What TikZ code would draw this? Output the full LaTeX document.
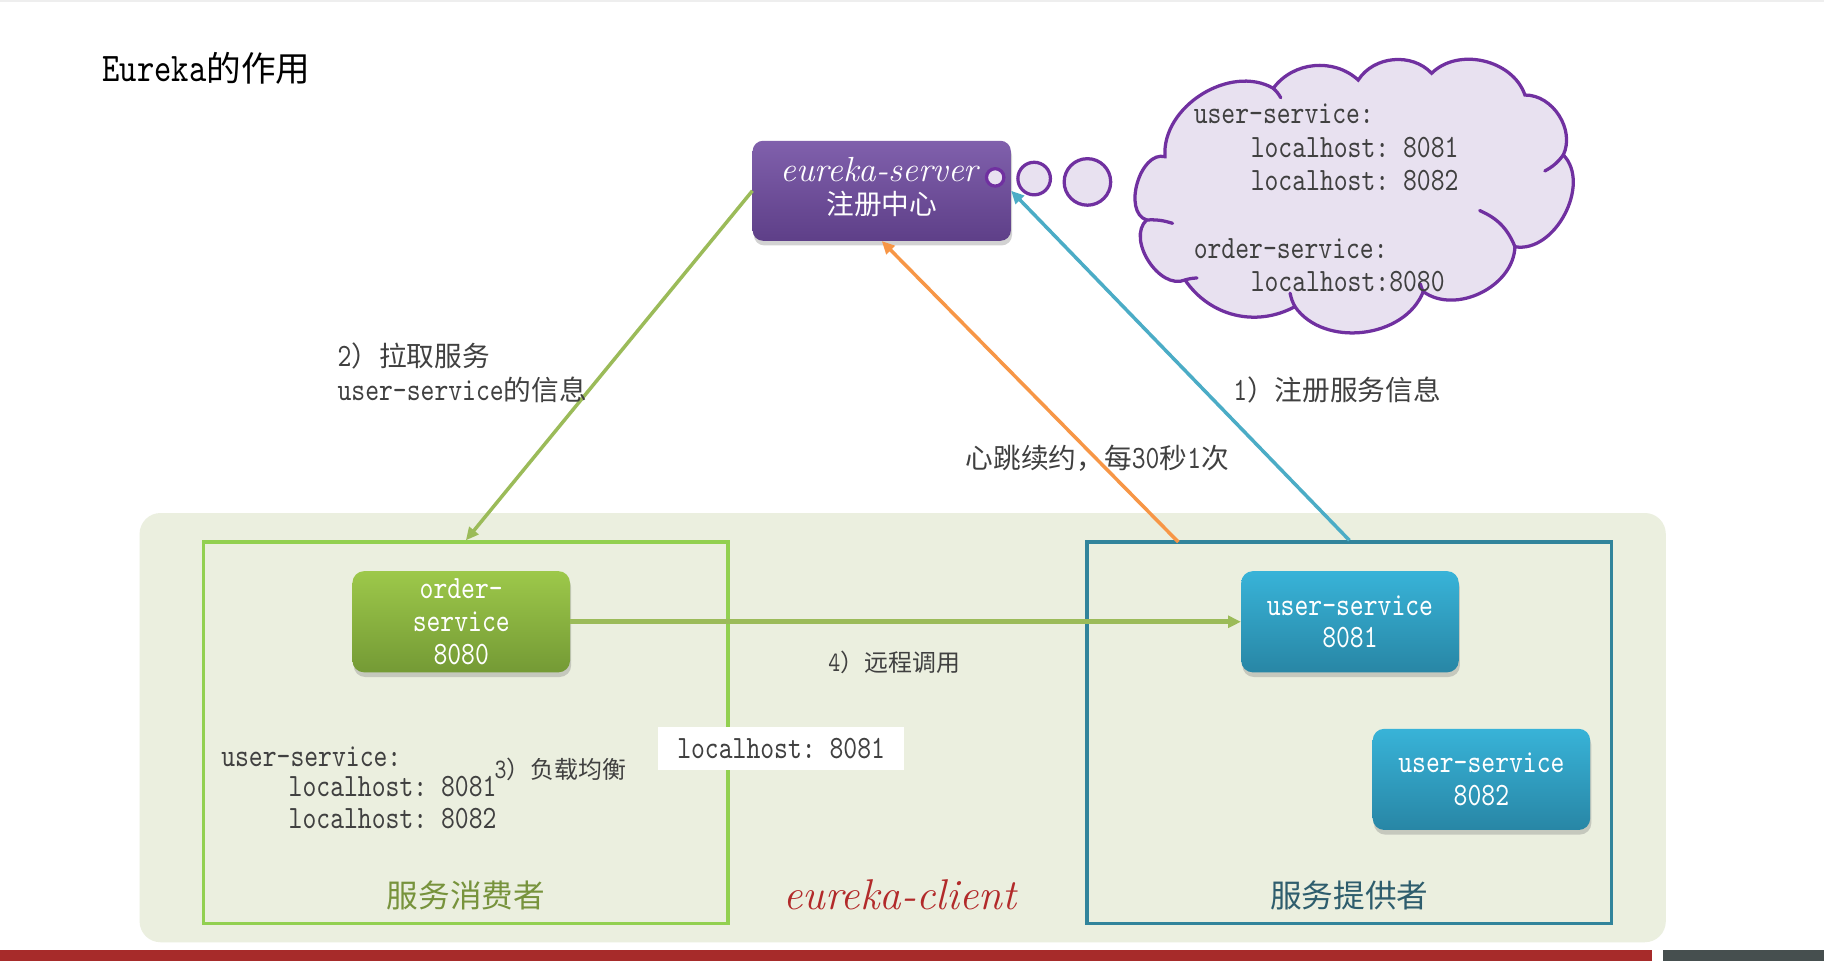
\documentclass[tikz,border=0pt]{standalone}
\usepackage{fontspec}
\setmonofont{lmmono10-regular.otf}[FakeStretch=0.81]
\newfontfamily\cjk{Noto Sans CJK SC}[Scale=0.85]
\usetikzlibrary{shapes.symbols,shadows,arrows.meta,calc}
\definecolor{txtgray}{HTML}{404040}
\definecolor{srvtop}{HTML}{8060AC}
\definecolor{srvbot}{HTML}{5E3F88}
\definecolor{grtop}{HTML}{9DC84A}
\definecolor{grbot}{HTML}{749A35}
\definecolor{bltop}{HTML}{38B3D8}
\definecolor{blbot}{HTML}{2886A5}
\definecolor{linegreen}{HTML}{9BBB59}
\definecolor{lineorange}{HTML}{F79646}
\definecolor{lineblue}{HTML}{4BACC6}
\definecolor{bgpanel}{HTML}{EBEFDF}
\definecolor{consgreen}{HTML}{92D050}
\definecolor{provteal}{HTML}{31849B}
\definecolor{cloudfill}{HTML}{E8E1F0}
\definecolor{cloudline}{HTML}{7030A0}
\definecolor{conslabel}{HTML}{77933C}
\definecolor{provlabel}{HTML}{2E5D6D}
\definecolor{clientred}{HTML}{B22A2A}
\definecolor{barred}{HTML}{A72B2A}
\definecolor{bargray}{HTML}{464F4F}
\definecolor{topline}{HTML}{EEEEEE}
\tikzset{
  lbl/.style={font=\fontsize{28}{29}\selectfont\ttfamily, text=txtgray, inner sep=0pt, anchor=base west},
  smalllbl/.style={font=\fontsize{24.2}{25}\selectfont\ttfamily, text=txtgray, inner sep=0pt, anchor=base west},
  svcbox/.style={rounded corners=10pt, minimum width=187pt, minimum height=87pt, text=white, align=center,
     font=\fontsize{28}{28}\selectfont\ttfamily, inner sep=0pt,
     drop shadow={opacity=0.35, shadow xshift=1pt, shadow yshift=-4pt}},
  greensvc/.style={svcbox, top color=grtop, bottom color=grbot},
  bluesvc/.style={svcbox, top color=bltop, bottom color=blbot},
  groupbox/.style={line width=3pt, minimum width=451pt, minimum height=328pt, inner sep=0pt},
  conn/.style={line width=3pt, -{Triangle[length=11pt,width=10pt]}},
  bubble/.style={circle, draw=cloudline, fill=cloudfill, line width=2.8pt, inner sep=0pt},
  cloudstroke/.style={draw=cloudline, line width=2.8pt, line cap=round},
}
\begin{document}
\begin{tikzpicture}[x=1pt,y=-1pt]
\useasboundingbox (0,0) rectangle (1568,826);
\fill[white] (0,0) rectangle (1568,826);
\fill[topline] (0,0) rectangle (1568,2);
% title
\node[anchor=base west, inner sep=0pt, font=\fontsize{35}{36}\selectfont\ttfamily, text=black] (title) at (88,70) {Eureka{\cjk 的作用}};
% panel
\node[fill=bgpanel, rounded corners=18pt, minimum width=1312pt, minimum height=369pt, inner sep=0pt] (panel) at (776,625.5) {};
\node[groupbox, draw=consgreen] (consumer) at (400.5,630) {};
\node[groupbox, draw=provteal] (provider) at (1160,630) {};
\node[fill=white, minimum width=211pt, minimum height=37pt, inner sep=0pt, font=\fontsize{28}{29}\selectfont\ttfamily, text=txtgray] (lh) at (671.5,643.5) {localhost: 8081};
% services
\node[greensvc] (order) at (396.5,534.5) {order-\\service\\8080};
\node[bluesvc] (us1) at (1160.5,534.5) {user-service\\8081};
\node[bluesvc] (us2) at (1273.5,670) {user-service\\8082};
% server
\node[rounded corners=9pt, minimum width=222pt, minimum height=86pt, inner sep=0pt, top color=srvtop, bottom color=srvbot,
  drop shadow={opacity=0.35, shadow xshift=1pt, shadow yshift=-4pt}] (server) at (758,164) {};
\node[anchor=base, inner sep=0pt, text=white, font=\fontsize{30}{30}\selectfont\rmfamily\itshape] (srvname) at (756,156) {eureka-server};
\node[anchor=base, inner sep=0pt, text=white, font=\fontsize{28}{28}\selectfont\cjk] (srvcn) at (758,184) {注册中心};
% cloud
\coordinate (k1) at (1001.5,134.7);
\coordinate (k2) at (1094.6,75.9);
\coordinate (k3) at (1167.6,68.8);
\coordinate (k4) at (1230.7,63.0);
\coordinate (k5) at (1310.9,81.7);
\coordinate (k6) at (1343.9,133.2);
\coordinate (k7) at (1302.3,212.1);
\coordinate (k8) at (1223.5,250.7);
\coordinate (k9) at (1113.2,263.6);
\coordinate (k10) at (1018.7,240.7);
\coordinate (k11) at (985.7,189.1);
\path[cloudstroke, fill=cloudfill] (k1) to[bend left=62] (k2) to[bend left=48] (k3) to[bend left=52] (k4)
  to[bend left=58] (k5) to[bend left=58] (k6) to[bend left=72] (k7) to[bend left=62] (k8)
  to[bend left=62] (k9) to[bend left=42] (k10) to[bend left=80] (k11) to[bend left=88] (k1) -- cycle;
% inner strokes of the cloud
\coordinate (t7) at (1272,181);
\coordinate (t6) at (1328,147);
\coordinate (t11) at (1008,192);
\coordinate (t10) at (1029,239);
\coordinate (t8) at (1221,244);
\coordinate (t9) at (1109,252);
\coordinate (t2) at (1101,84);
\draw[cloudstroke] (k7) to[bend right=22] (t7);
\draw[cloudstroke] (k6) to[bend left=12] (t6);
\draw[cloudstroke] (k11) to[bend left=10] (t11);
\draw[cloudstroke] (k10) to[bend left=8] (t10);
\draw[cloudstroke] (k8) to[bend left=8] (t8);
\draw[cloudstroke] (k9) to[bend left=8] (t9);
\draw[cloudstroke] (k2) to[bend left=8] (t2);
\node[bubble, minimum size=15pt] (b1) at (855.5,152.5) {};
\node[bubble, minimum size=28pt] (b2) at (889,153.5) {};
\node[bubble, minimum size=40pt] (b3) at (934.8,156.4) {};
\node[lbl] (c1) at (1026,106) {user-service:};
\node[lbl] (c2) at (1075,135) {localhost: 8081};
\node[lbl] (c3) at (1075,164) {localhost: 8082};
\node[lbl] (c4) at (1026,222) {order-service:};
\node[lbl] (c5) at (1075,251) {localhost:8080};
% connectors
\coordinate (hb) at (1013,466);
\draw[conn, linegreen] (server.west) -- (consumer.north);
\draw[conn, lineorange] (hb) -- (server.south);
\draw[conn, lineblue] (provider.north) -- (server.east);
\draw[conn, linegreen, line width=4pt] (order.east) -- (us1.west);
% labels
\node[lbl] (l2a) at (290,315) {2{\cjk ）拉取服务}};
\node[lbl] (l2b) at (290,344) {user-service{\cjk 的信息}};
\node[lbl] (l1) at (1060,344) {1{\cjk ）注册服务信息}};
\node[lbl] (lhb) at (830,403) {{\cjk 心跳续约，每}30{\cjk 秒}1{\cjk 次}};
\node[smalllbl] (l4) at (712,577) {4{\cjk ）远程调用}};
\node[smalllbl] (l3) at (425,669) {3{\cjk ）负载均衡}};
\node[lbl] (u1) at (190,659) {user-service:};
\node[lbl] (u2) at (248,685) {localhost: 8081};
\node[lbl] (u3) at (248,712) {localhost: 8082};
\node[anchor=base, inner sep=0pt, font=\fontsize{32}{32}\selectfont\cjk, text=conslabel] (cons) at (400.5,780) {服务消费者};
\node[anchor=base, inner sep=0pt, font=\fontsize{32}{32}\selectfont\cjk, text=provlabel] (prov) at (1160,780) {服务提供者};
\node[anchor=base west, inner sep=0pt, font=\fontsize{37}{38}\selectfont\rmfamily\itshape, text=clientred] (client) at (673,782) {eureka-client};
% bottom bars
\fill[barred] (0,817) rectangle (1420,826);
\fill[bargray] (1430,817) rectangle (1568,826);
\end{tikzpicture}
\end{document}
